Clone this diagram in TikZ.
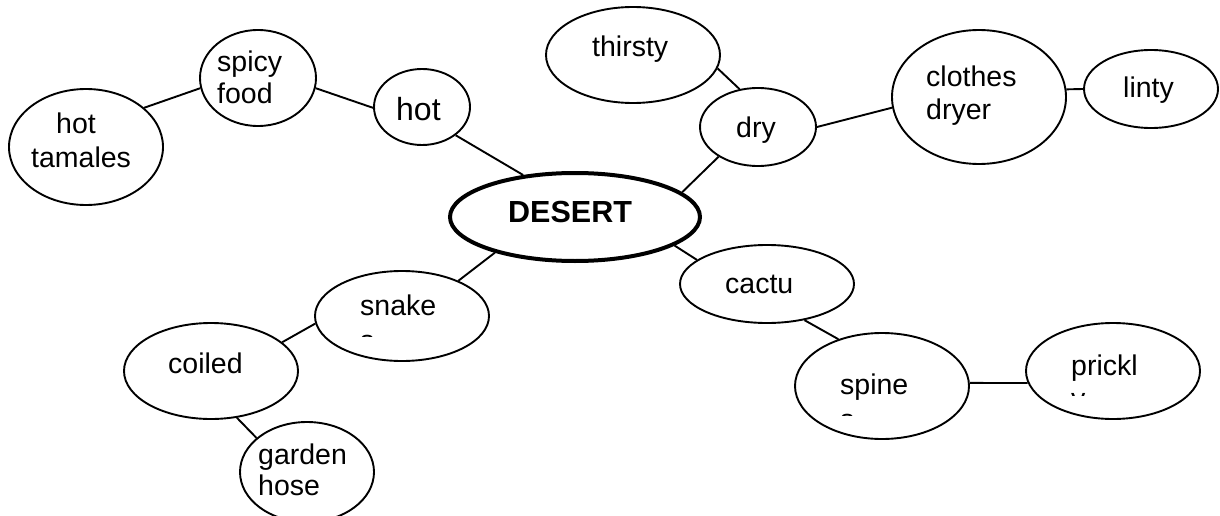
\documentclass[tikz,border=0pt]{standalone}
\usepackage{fontspec}
\setmainfont{Liberation Sans}
\usetikzlibrary{shapes.geometric}
\begin{document}
\begin{tikzpicture}[x=1pt,y=-1pt,
  bubble/.style={ellipse, draw, line width=1.9pt, inner sep=0pt},
  hub/.style={ellipse, draw, line width=4pt, inner sep=0pt},
  link/.style={line width=1.9pt},
  word/.style={anchor=base west, inner sep=0pt, font=\fontsize{28.5}{32}\selectfont},
  largeword/.style={anchor=base west, inner sep=0pt, font=\fontsize{32}{36}\selectfont},
  bigword/.style={anchor=base west, inner sep=0pt, font=\fontsize{30.5}{34}\selectfont\bfseries}]
\clip (0,0) rectangle (1220,516);

% ovals
\node[hub, minimum width=250, minimum height=88] (desert) at (575,217) {};
\node[bubble, minimum width=154, minimum height=116] (tam) at (86,147) {};
\node[bubble, minimum width=116, minimum height=96] (spicy) at (258,78) {};
\node[bubble, minimum width=96, minimum height=76] (hot) at (422,107) {};
\node[bubble, minimum width=174, minimum height=96] (thirsty) at (633,55) {};
\node[bubble, minimum width=116, minimum height=78] (dry) at (758,127) {};
\node[bubble, minimum width=174, minimum height=134] (clothes) at (979,97) {};
\node[bubble, minimum width=134, minimum height=78] (linty) at (1151,89) {};
\node[bubble, minimum width=174, minimum height=78] (cactu) at (767,284) {};
\node[bubble, minimum width=174, minimum height=106] (spine) at (882,386) {};
\node[bubble, minimum width=174, minimum height=96] (prickl) at (1113,371) {};
\node[bubble, minimum width=174, minimum height=90] (snake) at (402,316) {};
\node[bubble, minimum width=174, minimum height=96] (coiled) at (211,371) {};
\node[bubble, minimum width=134, minimum height=100] (garden) at (307,472) {};

% connectors
\draw[link] (tam.34) -- (spicy.190.7);
\draw[link] (spicy.-10.6) -- (hot.181);
\draw[link] (hot.-40) -- (desert.141.7);
\draw[link] (thirsty.-9.2) -- (dry.116);
\draw[link] (dry.217.7) -- (desert.13);
\draw[link] (dry.0) -- (clothes.187.2);
\draw[link] (clothes.5.3) -- (linty.180);
\draw[link] (desert.-16.2) -- (cactu.161.8);
\draw[link] (cactu.-44.2) -- (spine.133.7);
\draw[link] (spine.2) -- (prickl.188);
\draw[link] (desert.204.3) -- (snake.32.3);
\draw[link] (snake.185.3) -- (coiled.22.8);
\draw[link] (coiled.-61.2) -- (garden.146.9);

% labels
\node[bigword] (desert-t) at (508,222) {DESERT};
\node[word] (tam-t1) at (56,133) {hot};
\node[word] (tam-t2) at (31,167) {tamales};
\node[word] (spicy-t1) at (217,72) {spicy};
\node[word] (spicy-t2) at (217,104) {food};
\node[largeword] (hot-t) at (396,121) {hot};
\node[word] (thirsty-t) at (592,57) {thirsty};
\node[word] (dry-t) at (736,137) {dry};
\node[word] (clothes-t1) at (926,87) {clothes};
\node[word] (clothes-t2) at (926,120) {dryer};
\node[word] (linty-t) at (1123,98) {linty};
\node[word] (cactu-t) at (725,293) {cactu};
\node[word] (snake-t) at (360,315) {snake};
\node[word] (spine-t) at (840,394) {spine};
\node[word] (prickl-t) at (1071,375) {prickl};
\node[word] (coiled-t) at (168,373) {coiled};
\node[word] (garden-t1) at (258,464) {garden};
\node[word] (garden-t2) at (258,495) {hose};

% second lines cut off by the bottom of their text boxes
\begin{scope}
  \clip (355,320) rectangle (390,336.6);
  \node[word] (snake-t2) at (360,350) {s};
\end{scope}
\begin{scope}
  \clip (835,400) rectangle (870,415.6);
  \node[word] (spine-t2) at (840,429) {s};
\end{scope}
\begin{scope}
  \clip (1065,380) rectangle (1100,395.4);
  \node[word] (prickl-t2) at (1071,408.5) {y};
\end{scope}
\end{tikzpicture}
\end{document}
